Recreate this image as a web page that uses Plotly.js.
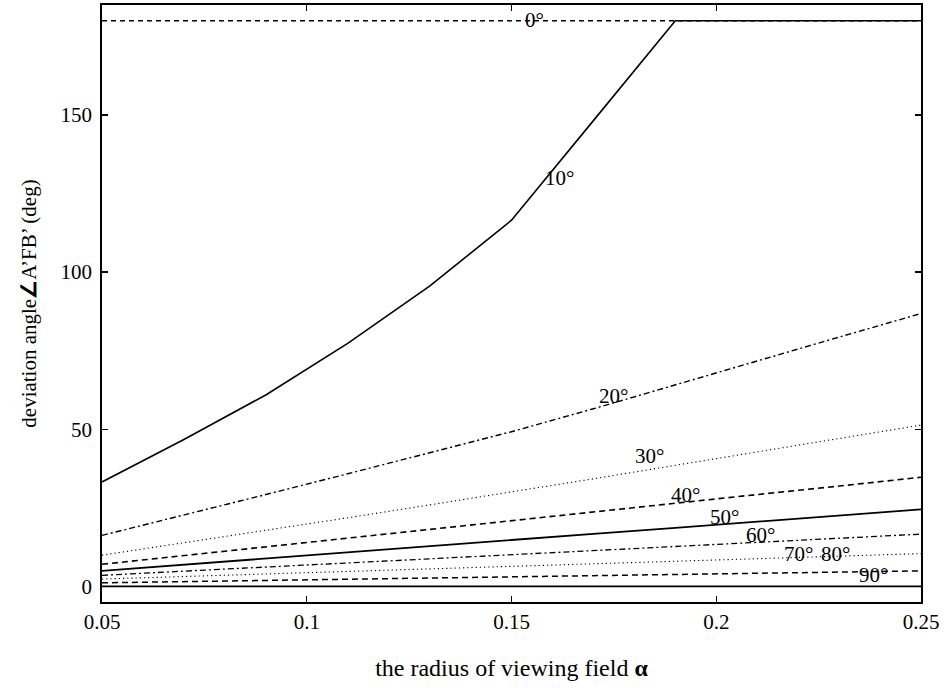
<!DOCTYPE html>
<html>
<head>
<meta charset="utf-8">
<script src="https://cdn.plot.ly/plotly-3.0.1.min.js"></script>
<style>html,body{margin:0;padding:0;background:#fff;}#chart{width:948px;height:690px;}</style>
</head>
<body>
<div id="chart"></div>
<script>
// radius of viewing field a
const radius = [0.05, 0.07, 0.09, 0.11, 0.13, 0.15, 0.17, 0.19, 0.21, 0.23, 0.25];
// deviation angle (deg) for each incidence angle
const dev0  = [180, 180, 180, 180, 180, 180, 180, 180, 180, 180, 180];
const dev10 = [33.2, 46.7, 60.9, 77.3, 95.5, 116.5, 148.2, 180, 180, 180, 180];
const dev20 = [16.2, 22.6, 29.2, 35.8, 42.5, 49.2, 56.5, 64, 71.7, 79.3, 86.8];
const dev30 = [9.9, 13.8, 17.8, 21.8, 25.9, 30, 34.2, 38.5, 42.8, 47, 51.3];
const dev40 = [7.0, 9.8, 12.5, 15.3, 18.1, 20.9, 23.6, 26.4, 29.2, 31.9, 34.7];
const dev50 = [4.9, 6.9, 8.8, 10.8, 12.7, 14.7, 16.7, 18.6, 20.6, 22.5, 24.5];
const dev60 = [3.5, 4.8, 6.1, 7.4, 8.7, 10.05, 11.4, 12.7, 14.0, 15.3, 16.6];
const dev70 = [2.3, 3.1, 3.9, 4.7, 5.5, 6.35, 7.2, 8.0, 8.8, 9.6, 10.4];
const dev80 = [1.1, 1.5, 1.9, 2.2, 2.6, 3.0, 3.4, 3.8, 4.1, 4.5, 4.9];
const dev90 = [0, 0, 0, 0, 0, 0, 0, 0, 0, 0, 0];
const curveLabels = ['0°', '10°', '20°', '30°', '40°', '50°', '60°', '70°', '80°', '90°'];
const labelX = [0.1557, 0.1616, 0.175, 0.1838, 0.1926, 0.2021, 0.2109, 0.22, 0.229, 0.2383];
const labelY = [180.3, 129.9, 60.5, 41.4, 29, 22, 16.2, 10.2, 10.2, 3.5];

const series = [dev0, dev10, dev20, dev30, dev40, dev50, dev60, dev70, dev80, dev90];
const styles = [
  {dash: '5px,4px', width: 1.4},
  {dash: 'solid', width: 1.6},
  {dash: '6px,3px,2px,3px', width: 1.4},
  {dash: '1.2px,3px', width: 1.1},
  {dash: '6px,4px', width: 1.6},
  {dash: 'solid', width: 1.8},
  {dash: '6px,3px,2px,3px', width: 1.3},
  {dash: '1.2px,3px', width: 1.1},
  {dash: '6px,4px', width: 1.5},
  {dash: 'solid', width: 1.8}
];

const traces = series.map((ys, i) => ({
  x: radius, y: ys, type: 'scatter', mode: 'lines',
  line: {color: '#000', width: styles[i].width, dash: styles[i].dash},
  showlegend: false, hoverinfo: 'skip'
}));

const fontFam = 'Liberation Serif, Times New Roman, serif';
const annotations = curveLabels.map((t, i) => ({
  x: labelX[i], y: labelY[i], xref: 'x', yref: 'y', text: t, showarrow: false,
  font: {family: fontFam, size: 21, color: '#000'}
}));

const layout = {
  width: 948, height: 690,
  margin: {l: 102, r: 27, t: 5, b: 88},
  paper_bgcolor: '#fff', plot_bgcolor: '#fff',
  font: {family: fontFam, color: '#000'},
  xaxis: {
    range: [0.05, 0.25], tickvals: [0.05, 0.1, 0.15, 0.2, 0.25],
    ticktext: ['0.05', '0.1', '0.15', '0.2', '0.25'],
    ticks: 'inside', ticklen: 6, tickwidth: 1.3, tickcolor: '#000',
    showline: true, linewidth: 1.8, linecolor: '#000', mirror: 'ticks',
    showgrid: false, zeroline: false,
    tickfont: {family: fontFam, size: 21, color: '#000'},
    ticklabelstandoff: 0,
    title: {text: 'the radius of viewing field <b>α</b>', font: {family: fontFam, size: 24, color: '#000'}, standoff: 26}
  },
  yaxis: {
    range: [-5, 185], tickvals: [0, 50, 100, 150],
    ticks: 'inside', ticklen: 6, tickwidth: 1.3, tickcolor: '#000',
    showline: true, linewidth: 1.8, linecolor: '#000', mirror: 'ticks',
    showgrid: false, zeroline: false,
    tickfont: {family: fontFam, size: 21, color: '#000'},
    ticklabelstandoff: 4,
    title: {text: 'deviation angle<b>∠</b>A’FB’ (deg)', font: {family: fontFam, size: 21, color: '#000'}, standoff: 18}
  },
  annotations: annotations
};

Plotly.newPlot('chart', traces, layout, {staticPlot: true, displayModeBar: false});
</script>
</body>
</html>
